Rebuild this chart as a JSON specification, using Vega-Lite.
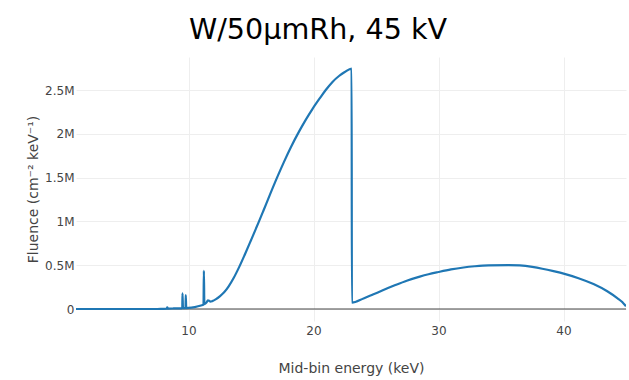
{
  "$schema": "https://vega.github.io/schema/vega-lite/v6.json",
  "autosize": {"type": "none"},
  "width": 550,
  "height": 264,
  "padding": {"left": 76, "top": 57, "right": 3, "bottom": 59},
  "background": "white",
  "title": {
    "text": "W/50μmRh, 45 kV",
    "anchor": "middle",
    "frame": "group",
    "dx": -33,
    "offset": 12,
    "fontSize": 28.6,
    "font": "DejaVu Sans",
    "fontWeight": "normal",
    "color": "#000"
  },
  "config": {
    "view": {"stroke": null},
    "font": "DejaVu Sans",
    "axis": {
      "labelFont": "DejaVu Sans",
      "labelFontSize": 12,
      "labelColor": "#444",
      "titleFont": "DejaVu Sans",
      "titleFontSize": 14,
      "titleFontWeight": "normal",
      "titleColor": "#444",
      "gridColor": "#eee",
      "gridWidth": 1,
      "domain": false,
      "ticks": false
    }
  },
  "layer": [
    {
      "data": {"values": [{"y": 0}]},
      "mark": {"type": "rule", "color": "#444", "strokeWidth": 1},
      "encoding": {"y": {"field": "y", "type": "quantitative", "scale": {"domain": [-137000, 2877000]}}}
    },
    {
      "data": {
        "values": [
          {"energy": 1.0, "fluence": 0},
          {"energy": 7.5, "fluence": 0},
          {"energy": 7.9, "fluence": 2000},
          {"energy": 8.25, "fluence": 4000},
          {"energy": 8.3, "fluence": 18000},
          {"energy": 8.36, "fluence": 5000},
          {"energy": 8.8, "fluence": 6000},
          {"energy": 9.3, "fluence": 8000},
          {"energy": 9.5, "fluence": 8000},
          {"energy": 9.52, "fluence": 180000},
          {"energy": 9.56, "fluence": 9000},
          {"energy": 9.76, "fluence": 10000},
          {"energy": 9.78, "fluence": 160000},
          {"energy": 9.82, "fluence": 11000},
          {"energy": 10.0, "fluence": 12000},
          {"energy": 10.5, "fluence": 22000},
          {"energy": 11.0, "fluence": 40000},
          {"energy": 11.2, "fluence": 50000},
          {"energy": 11.23, "fluence": 436000},
          {"energy": 11.27, "fluence": 56000},
          {"energy": 11.45, "fluence": 75000},
          {"energy": 11.55, "fluence": 100000},
          {"energy": 11.65, "fluence": 95000},
          {"energy": 11.75, "fluence": 85000},
          {"energy": 11.9, "fluence": 90000},
          {"energy": 12.2, "fluence": 112000},
          {"energy": 12.5, "fluence": 144000},
          {"energy": 12.85, "fluence": 190000},
          {"energy": 13.2, "fluence": 255000},
          {"energy": 13.6, "fluence": 350000},
          {"energy": 14.04, "fluence": 475000},
          {"energy": 14.5, "fluence": 620000},
          {"energy": 15.0, "fluence": 785000},
          {"energy": 15.64, "fluence": 1000000},
          {"energy": 16.0, "fluence": 1125000},
          {"energy": 16.5, "fluence": 1300000},
          {"energy": 17.1, "fluence": 1505000},
          {"energy": 17.64, "fluence": 1680000},
          {"energy": 18.2, "fluence": 1850000},
          {"energy": 18.84, "fluence": 2025000},
          {"energy": 19.4, "fluence": 2165000},
          {"energy": 19.9, "fluence": 2280000},
          {"energy": 20.5, "fluence": 2405000},
          {"energy": 20.98, "fluence": 2500000},
          {"energy": 21.5, "fluence": 2590000},
          {"energy": 22.04, "fluence": 2660000},
          {"energy": 22.5, "fluence": 2705000},
          {"energy": 23.05, "fluence": 2745000},
          {"energy": 23.07, "fluence": 72000},
          {"energy": 24.0, "fluence": 120000},
          {"energy": 24.75, "fluence": 165000},
          {"energy": 25.5, "fluence": 211000},
          {"energy": 26.5, "fluence": 270000},
          {"energy": 27.46, "fluence": 323000},
          {"energy": 28.5, "fluence": 370000},
          {"energy": 29.2, "fluence": 397000},
          {"energy": 29.98, "fluence": 422000},
          {"energy": 31.0, "fluence": 452000},
          {"energy": 32.0, "fluence": 474000},
          {"energy": 32.9, "fluence": 488000},
          {"energy": 34.0, "fluence": 499000},
          {"energy": 35.6, "fluence": 502000},
          {"energy": 36.5, "fluence": 497000},
          {"energy": 37.5, "fluence": 480000},
          {"energy": 38.3, "fluence": 460000},
          {"energy": 39.2, "fluence": 432000},
          {"energy": 40.15, "fluence": 398000},
          {"energy": 41.2, "fluence": 352000},
          {"energy": 42.4, "fluence": 285000},
          {"energy": 43.5, "fluence": 203000},
          {"energy": 44.3, "fluence": 125000},
          {"energy": 44.7, "fluence": 80000},
          {"energy": 45.0, "fluence": 30000}
        ]
      },
      "mark": {"type": "line", "color": "#1f77b4", "strokeWidth": 2.2, "strokeJoin": "round", "interpolate": "monotone", "clip": true},
      "encoding": {
        "x": {
          "field": "energy",
          "type": "quantitative",
          "scale": {"domain": [1, 45], "nice": false, "zero": false},
          "axis": {
            "title": "Mid-bin energy (keV)",
            "values": [10, 20, 30, 40],
            "labelPadding": 4,
            "titlePadding": 25,
            "grid": true
          }
        },
        "y": {
          "field": "fluence",
          "type": "quantitative",
          "scale": {"domain": [-137000, 2877000], "nice": false, "zero": false},
          "axis": {
            "title": "Fluence (cm⁻² keV⁻¹)",
            "values": [0, 500000, 1000000, 1500000, 2000000, 2500000],
            "labelExpr": "datum.value == 0 ? '0' : (datum.value / 1000000) + 'M'",
            "labelPadding": 2,
            "titlePadding": 4,
            "grid": true
          }
        }
      }
    }
  ]
}
